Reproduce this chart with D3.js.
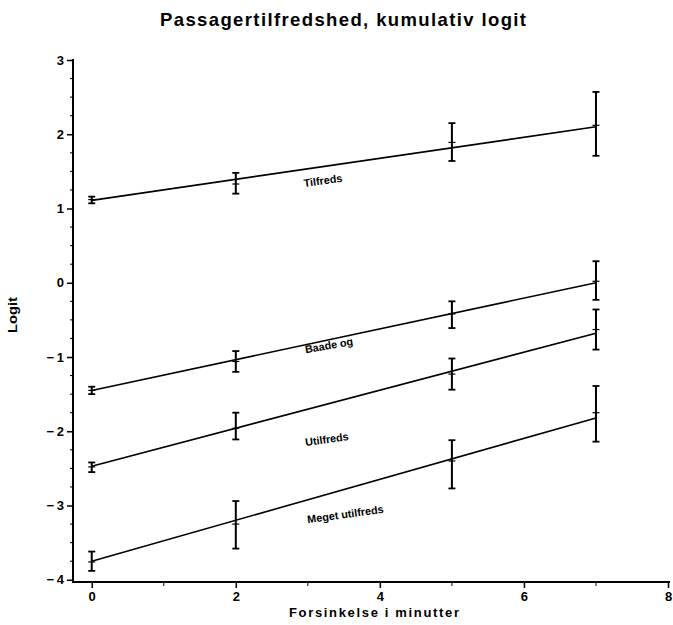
<!DOCTYPE html>
<html>
<head>
<meta charset="utf-8">
<script src="https://cdn.jsdelivr.net/npm/d3@7"></script>
<style>
  html, body { margin: 0; padding: 0; background: #fff; }
  svg { display: block; }
  text { font-family: "Liberation Sans", Arial, Helvetica, sans-serif; fill: #000; }
</style>
</head>
<body>
<svg id="chart" width="673" height="625"></svg>
<script>
// Delay in minutes for each measured group
const delays = [0, 2, 5, 7];

// Cumulative response categories
const categories = ["Tilfreds", "Baade og", "Utilfreds", "Meget utilfreds"];

// Observed cumulative logits per category and delay
const observed = [
  [1.12, 1.33, 1.89, 2.12],
  [-1.45, -1.06, -0.42, 0.02],
  [-2.48, -1.96, -1.23, -0.63],
  [-3.76, -3.25, -2.40, -1.75]
];

// Lower and upper confidence limits
const lower = [
  [1.07, 1.20, 1.64, 1.71],
  [-1.50, -1.20, -0.61, -0.23],
  [-2.55, -2.11, -1.44, -0.90],
  [-3.88, -3.58, -2.77, -2.14]
];
const upper = [
  [1.16, 1.48, 2.15, 2.57],
  [-1.40, -0.92, -0.25, 0.29],
  [-2.42, -1.75, -1.02, -0.36],
  [-3.62, -2.94, -2.12, -1.39]
];

// Fitted straight lines: logit at the first and last delay
const fitX = [0, 7];
const fitted = [
  [1.11, 2.10],
  [-1.45, 0.00],
  [-2.47, -0.68],
  [-3.75, -1.82]
];

// Where each category name sits (delay, logit of text baseline)
const labelAt = [
  [2.95, 1.29],
  [2.97, -0.95],
  [2.97, -2.20],
  [3.00, -3.24]
];

// Axis ticks
const xTicks = [0, 2, 4, 6, 8];
const xMinor = [1, 3, 5, 7];
const yTicks = [-4, -3, -2, -1, 0, 1, 2, 3];

const title = "Passagertilfredshed,  kumulativ  logit";
const xTitle = "Forsinkelse  i  minutter";
const yTitle = "Logit";

const svg = d3.select("#chart");

const x = d3.scaleLinear().domain([-0.26, 8]).range([73, 668]);
const y = d3.scaleLinear().domain([-4.03, 3]).range([582, 60]);

// Title
svg.append("text")
  .attr("x", 343).attr("y", 26)
  .attr("text-anchor", "middle")
  .attr("font-size", 18.5)
  .attr("font-weight", "bold")
  .attr("textLength", 366)
  .attr("lengthAdjust", "spacing")
  .text(title);

// Y axis
const yMinor = d3.range(-4, 3.001, 0.25).filter(v => Math.abs(v - Math.round(v)) > 1e-6);
const yAxis = d3.axisLeft(y)
  .tickValues(yTicks)
  .tickSize(6)
  .tickPadding(3)
  .tickFormat(v => v < 0 ? "\u2212\u2009" + Math.abs(v) : String(v));
const gy = svg.append("g").attr("transform", `translate(${x.range()[0]},0)`).call(yAxis);
gy.select(".domain").attr("d", `M0,${y(3) - 1}V${y.range()[0] + 1}`).attr("stroke-width", 2);
gy.selectAll(".tick line").attr("stroke-width", 1.5);
gy.selectAll(".tick text")
  .attr("font-size", 13).attr("font-weight", "bold")
  .attr("font-family", "\"Liberation Sans\", Arial, sans-serif");
gy.selectAll(".minor").data(yMinor).enter().append("line")
  .attr("class", "minor")
  .attr("x1", -3).attr("x2", 0)
  .attr("y1", d => y(d)).attr("y2", d => y(d))
  .attr("stroke", "#000").attr("stroke-width", 1);

// X axis
const xAxis = d3.axisBottom(x)
  .tickValues(xTicks)
  .tickSize(6)
  .tickPadding(4)
  .tickFormat(d3.format("d"));
const gx = svg.append("g").attr("transform", `translate(0,${y.range()[0]})`).call(xAxis);
gx.select(".domain").attr("d", `M${x.range()[0] - 1},0H${x.range()[1] + 2}`).attr("stroke-width", 2);
gx.selectAll(".tick line").attr("stroke-width", 1.5);
gx.selectAll(".tick text")
  .attr("font-size", 13).attr("font-weight", "bold")
  .attr("font-family", "\"Liberation Sans\", Arial, sans-serif");
gx.selectAll(".minor").data(xMinor).enter().append("line")
  .attr("class", "minor")
  .attr("x1", d => x(d)).attr("x2", d => x(d))
  .attr("y1", 0).attr("y2", 4)
  .attr("stroke", "#000").attr("stroke-width", 1);

// Axis titles
svg.append("text")
  .attr("x", 374).attr("y", 617)
  .attr("text-anchor", "middle")
  .attr("font-size", 13)
  .attr("font-weight", "bold")
  .attr("textLength", 170)
  .attr("lengthAdjust", "spacing")
  .text(xTitle);

svg.append("text")
  .attr("transform", "translate(17,315) rotate(-90)")
  .attr("text-anchor", "middle")
  .attr("font-size", 13)
  .attr("font-weight", "bold")
  .attr("textLength", 36)
  .attr("lengthAdjust", "spacingAndGlyphs")
  .text(yTitle);

// Fitted lines, one per category
const line = d3.line().x(d => x(d[0])).y(d => y(d[1]));
svg.append("g").selectAll("path")
  .data(fitted)
  .enter().append("path")
  .attr("d", f => line(fitX.map((t, i) => [t, f[i]])))
  .attr("fill", "none")
  .attr("stroke", "#000")
  .attr("stroke-width", 1.6);

// Error bars with observed value marks
const capW = 3.5;
const bars = [];
categories.forEach((c, ci) => {
  delays.forEach((t, ti) => {
    bars.push({ t, lo: lower[ci][ti], hi: upper[ci][ti], obs: observed[ci][ti] });
  });
});
const gb = svg.append("g").attr("stroke", "#000");
const bar = gb.selectAll("g").data(bars).enter().append("g");
bar.append("line")
  .attr("x1", d => x(d.t)).attr("x2", d => x(d.t))
  .attr("y1", d => y(d.lo)).attr("y2", d => y(d.hi))
  .attr("stroke-width", 2);
bar.append("line")
  .attr("x1", d => x(d.t) - capW).attr("x2", d => x(d.t) + capW)
  .attr("y1", d => y(d.lo)).attr("y2", d => y(d.lo))
  .attr("stroke-width", 1.8);
bar.append("line")
  .attr("x1", d => x(d.t) - capW).attr("x2", d => x(d.t) + capW)
  .attr("y1", d => y(d.hi)).attr("y2", d => y(d.hi))
  .attr("stroke-width", 1.8);
bar.append("line")
  .attr("x1", d => x(d.t) - capW).attr("x2", d => x(d.t) + capW)
  .attr("y1", d => y(d.obs)).attr("y2", d => y(d.obs))
  .attr("stroke-width", 1.2);

// Category names along the lines
svg.append("g").selectAll("text")
  .data(categories)
  .enter().append("text")
  .attr("transform", (c, i) => `translate(${x(labelAt[i][0])},${y(labelAt[i][1])}) rotate(${i === 1 ? -10 : -8})`)
  .attr("font-size", 10.8)
  .attr("font-weight", "bold")
  .text(c => c);
</script>
</body>
</html>
